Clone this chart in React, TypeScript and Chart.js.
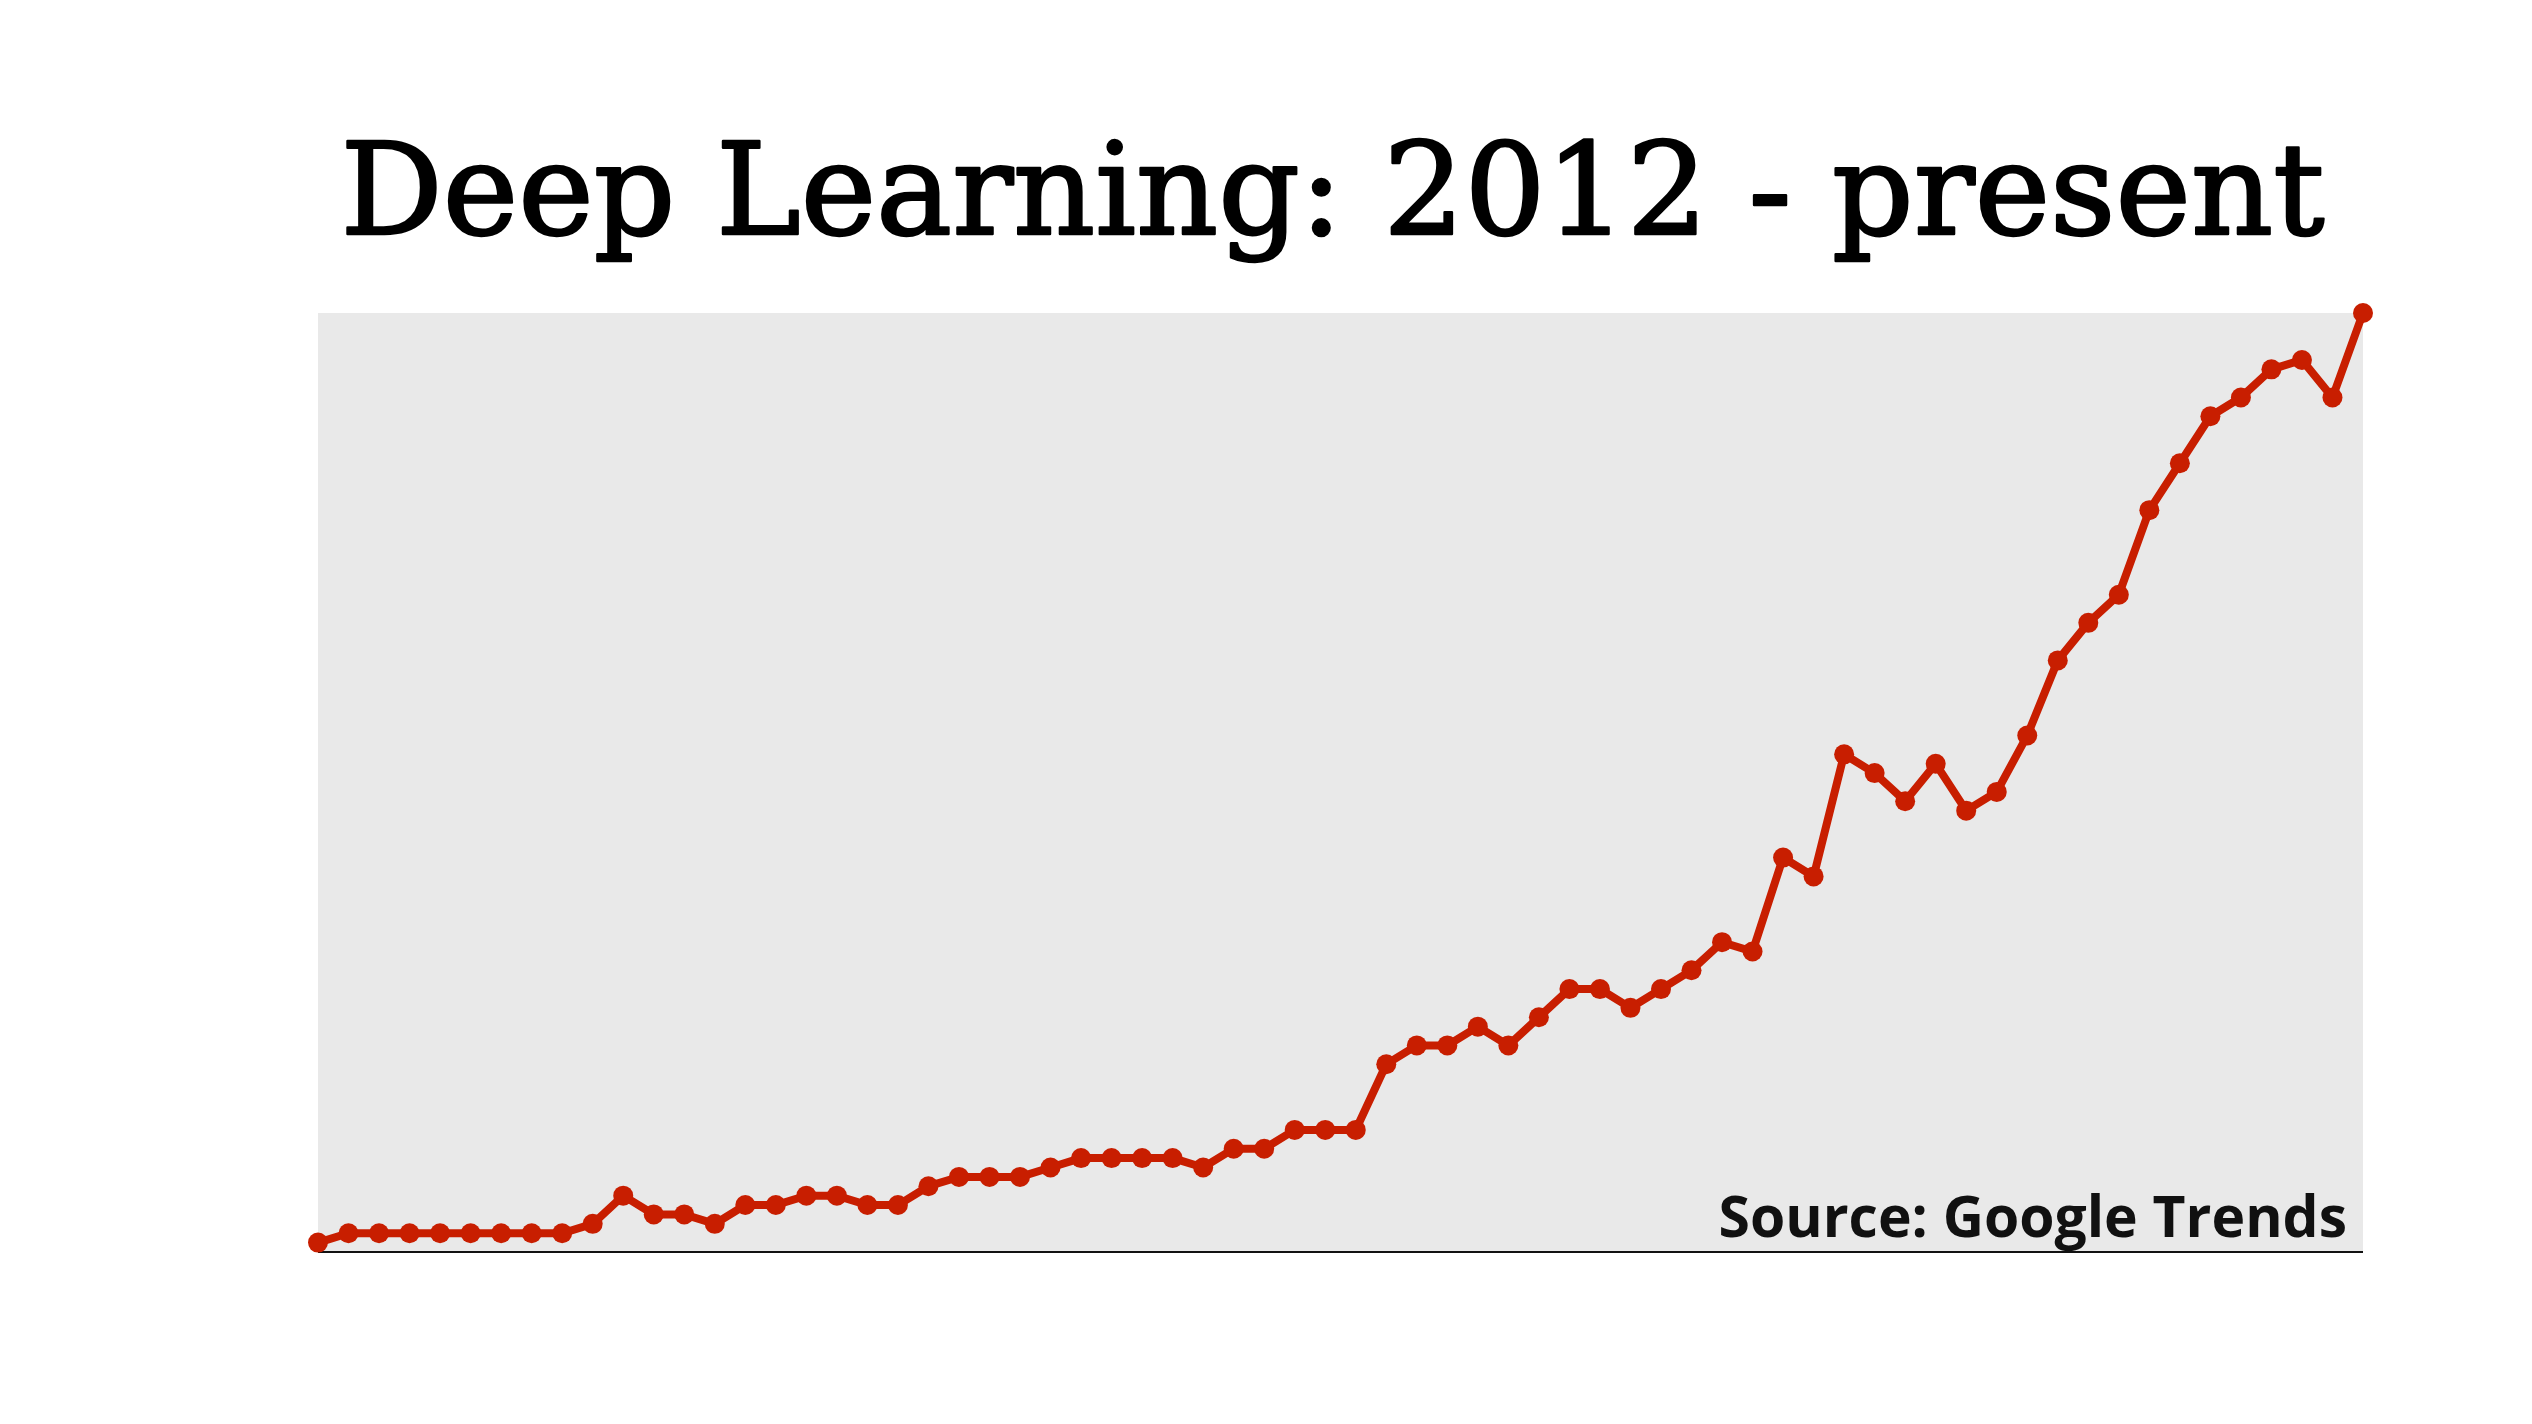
import { useEffect, useRef } from "react"
import { Chart, registerables } from "chart.js"

Chart.register(...registerables)

// monthly Google Trends interest, Jan 2012 .. Aug 2017
const years = ["2012", "2013", "2014", "2015", "2016", "2017"]
const months = ["01", "02", "03", "04", "05", "06", "07", "08", "09", "10", "11", "12"]
const labels = years.flatMap((y) => months.map((m) => `${y}-${m}`)).slice(0, 68)

const interest = [
  1, 2, 2, 2, 2, 2, 2, 2, 2, 3, 6, 4,
  4, 3, 5, 5, 6, 6, 5, 5, 7, 8, 8, 8,
  9, 10, 10, 10, 10, 9, 11, 11, 13, 13, 13, 20,
  22, 22, 24, 22, 25, 28, 28, 26, 28, 30, 33, 32,
  42, 40, 53, 51, 48, 52, 47, 49, 55, 63, 67, 70,
  79, 84, 89, 91, 94, 95, 91, 100,
]

const title = "Deep Learning: 2012 - present"
const sourceNote = "Source: Google Trends"

const decorations = {
  id: "decorations",
  beforeDatasetsDraw(chart: Chart) {
    const { ctx, chartArea } = chart
    ctx.save()
    ctx.fillStyle = "#e9e9e9"
    ctx.fillRect(chartArea.left, chartArea.top, chartArea.right - chartArea.left, chartArea.bottom - chartArea.top)
    ctx.strokeStyle = "#111111"
    ctx.lineWidth = 2
    ctx.beginPath()
    ctx.moveTo(chartArea.left, chartArea.bottom)
    ctx.lineTo(chartArea.right, chartArea.bottom)
    ctx.stroke()

    // source note, bottom right inside the plot
    ctx.fillStyle = "#111111"
    ctx.font = "bold 57px 'Open Sans'"
    ctx.textAlign = "right"
    ctx.textBaseline = "alphabetic"
    ctx.fillText(sourceNote, chartArea.right - 16, chartArea.bottom - 15)

    // title, fitted to the width of the original
    const family = "'DejaVu Serif', serif"
    let size = 128
    ctx.font = `${size}px ${family}`
    const w = ctx.measureText(title).width
    size = size * 1984 / w
    ctx.font = `${size}px ${family}`
    ctx.textAlign = "center"
    ctx.fillStyle = "#000000"
    ctx.strokeStyle = "#000000"
    ctx.lineWidth = 2.5
    ctx.lineJoin = "round"
    const cx = (chartArea.left + chartArea.right) / 2 - 8
    ctx.fillText(title, cx, 234)
    ctx.strokeText(title, cx, 234)
    ctx.restore()
  },
}

export default function App() {
  const canvasRef = useRef<HTMLCanvasElement | null>(null)
  const chartRef = useRef<Chart | null>(null)

  useEffect(() => {
    if (!canvasRef.current) return
    if (chartRef.current) chartRef.current.destroy()

    chartRef.current = new Chart(canvasRef.current, {
      type: "line",
      data: {
        labels,
        datasets: [
          {
            label: "Deep Learning",
            data: interest,
            borderColor: "#c81e00",
            backgroundColor: "#c81e00",
            borderWidth: 8,
            pointRadius: 10,
            pointBorderWidth: 0,
            pointHoverRadius: 10,
            tension: 0,
            fill: false,
            clip: false,
          },
        ],
      },
      options: {
        responsive: true,
        maintainAspectRatio: false,
        animation: false,
        layout: {
          padding: { left: 318, right: 169, top: 313, bottom: 172 },
        },
        plugins: {
          legend: { display: false },
          title: { display: false },
          tooltip: { enabled: false },
        },
        scales: {
          x: { display: false, offset: false },
          y: { display: false, min: 0, max: 100 },
        },
      },
      plugins: [decorations],
    })

    return () => {
      if (chartRef.current) {
        chartRef.current.destroy()
        chartRef.current = null
      }
    }
  }, [])

  return (
    <div style={{ position: "absolute", left: 0, top: 0, width: 2532, height: 1424, background: "#ffffff" }}>
      <canvas ref={canvasRef} />
    </div>
  )
}
